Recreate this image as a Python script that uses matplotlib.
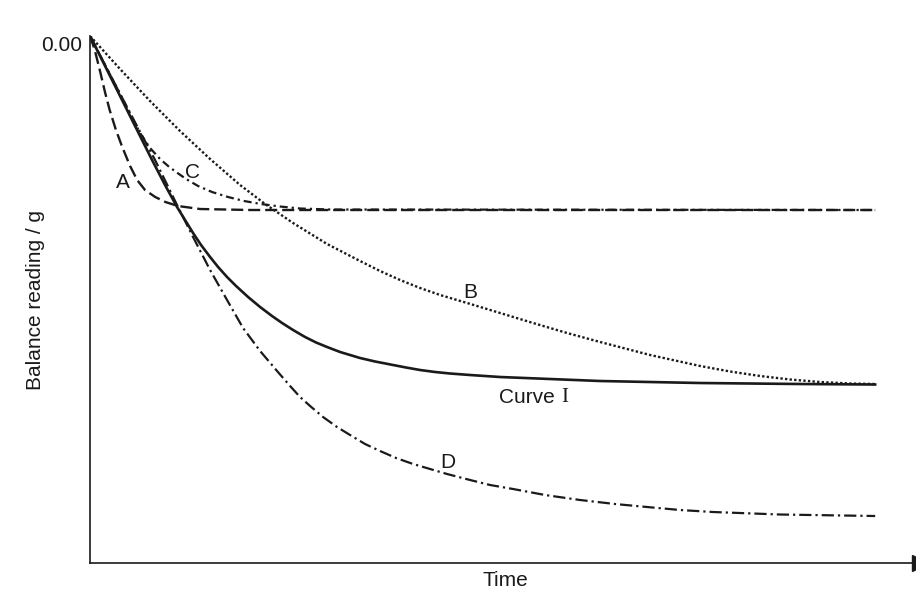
import matplotlib
matplotlib.use("Agg")
import matplotlib.pyplot as plt
import matplotlib.transforms as mtransforms

plt.rcParams['font.family'] = ['Liberation Sans', 'DejaVu Sans']

# time (arbitrary units) and balance reading (g)
t_A = [0, 0.6, 1.3, 1.9, 2.5, 3.3, 4.1, 5.1, 6.0, 7.0, 8.3, 9.6, 11.2, 14.0, 20.4, 100]
y_A = [0, -0.14, -0.36, -0.56, -0.74, -0.94, -1.11, -1.30, -1.44, -1.54, -1.61, -1.66,
       -1.70, -1.73, -1.74, -1.74]

t_B = [0, 3.82, 7.64, 11.46, 15.29, 19.11, 22.29, 25.86, 30.19, 34.39, 36.94, 39.49,
       42.04, 44.59, 48.03, 52.23, 56.43, 60.76, 64.97, 71.34, 77.71, 81.53, 85.35,
       89.17, 92.99, 96.82, 100]
y_B = [0, -0.33, -0.65, -0.95, -1.23, -1.49, -1.68, -1.87, -2.08, -2.25, -2.35, -2.44,
       -2.52, -2.59, -2.67, -2.77, -2.87, -2.97, -3.06, -3.19, -3.30, -3.355, -3.40,
       -3.435, -3.46, -3.475, -3.48]

t_C = [0, 3.82, 6.37, 7.64, 8.92, 9.94, 10.96, 12.23, 13.76, 15.54, 17.58, 19.62,
       21.78, 24.20, 26.75, 30.57, 100]
y_C = [0, -0.58, -0.97, -1.12, -1.23, -1.30, -1.36, -1.43, -1.50, -1.56, -1.61, -1.65,
       -1.68, -1.705, -1.725, -1.735, -1.74]

t_D = [0, 5.10, 8.28, 11.08, 13.12, 15.29, 17.45, 19.49, 21.66, 23.82, 25.48, 26.75,
       28.03, 29.68, 31.46, 33.12, 35.03, 36.94, 38.98, 41.15, 43.31, 45.48, 48.41,
       50.96, 53.89, 57.96, 62.42, 66.88, 70.96, 75.16, 79.36, 87.90, 100]
y_D = [0, -0.77, -1.24, -1.69, -2.01, -2.34, -2.64, -2.92, -3.15, -3.35, -3.50, -3.61,
       -3.70, -3.81, -3.91, -3.99, -4.08, -4.15, -4.22, -4.28, -4.33, -4.38, -4.44,
       -4.49, -4.53, -4.59, -4.64, -4.68, -4.71, -4.74, -4.76, -4.785, -4.80]

t_I = [0, 2.55, 4.84, 7.90, 9.55, 11.08, 12.10, 13.12, 14.14, 15.29, 16.31, 17.45,
       18.60, 20.13, 21.66, 23.18, 24.46, 25.86, 27.39, 28.79, 30.19, 31.85, 33.12,
       34.39, 36.31, 38.60, 40.25, 42.04, 43.95, 45.86, 48.41, 52.23, 58.60, 64.97,
       77.71, 90.45, 100]
y_I = [0, -0.40, -0.76, -1.24, -1.49, -1.71, -1.84, -1.97, -2.09, -2.21, -2.31, -2.41,
       -2.50, -2.61, -2.71, -2.80, -2.87, -2.94, -3.01, -3.065, -3.11, -3.16, -3.19,
       -3.22, -3.255, -3.29, -3.315, -3.34, -3.36, -3.375, -3.39, -3.41, -3.43, -3.45,
       -3.47, -3.48, -3.485]

ink = '#1a1a1a'

fig = plt.figure(figsize=(9.16, 6.01), dpi=100)
ax = fig.add_axes([0.0983, 0.0632, 0.9017, 0.8769])

ax.plot(t_I, y_I, color=ink, lw=1.9, solid_joinstyle='round')
ax.plot(t_A, y_A, color=ink, lw=1.7, linestyle=(0, (5.1, 2.1)))
ax.plot(t_B, y_B, color=ink, lw=1.7, linestyle=(0, (1, 0.95)))
ax.plot(t_C, y_C, color=ink, lw=1.6, linestyle=(0, (3.6, 1.8, 1, 1.8)))
ax.plot(t_D, y_D, color=ink, lw=1.6, linestyle=(0, (5.5, 1.8, 1, 1.8)))

ax.set_xlim(0, 105.2)
ax.set_ylim(-5.27, 0)

for side in ['top', 'right']:
    ax.spines[side].set_visible(False)
for side in ['left', 'bottom']:
    ax.spines[side].set_linewidth(1.2)
    ax.spines[side].set_color(ink)
ax.set_xticks([])
ax.set_yticks([])

# arrow head at the end of the time axis
tr = mtransforms.offset_copy(ax.transAxes, fig=fig, x=4, y=0, units='dots')
ax.plot([1.0], [0.0], marker='>', ms=11, color=ink, transform=tr, clip_on=False)

fs = 15
ax.text(-0.009, 0, '0.00', transform=ax.get_yaxis_transform(), ha='right', va='top',
        fontsize=fs, color=ink)
fig.text(36 / 916, 1 - 300 / 601, 'Balance reading / g', rotation=90, ha='center',
         va='center', fontsize=fs, color=ink)
fig.text(505 / 916, 1 - 580 / 601, 'Time', ha='center', va='center', fontsize=fs, color=ink)

ax.text(4.2, -1.46, 'A', ha='center', va='center', fontsize=fs, color=ink)
ax.text(13.1, -1.36, 'C', ha='center', va='center', fontsize=fs, color=ink)
ax.text(48.4, -2.56, 'B', ha='center', va='center', fontsize=fs, color=ink)
ax.text(45.6, -4.26, 'D', ha='center', va='center', fontsize=fs, color=ink)
ax.text(59.2, -3.61, 'Curve', ha='right', va='center', fontsize=fs, color=ink)
ax.text(60.0, -3.61, 'I', ha='left', va='center', fontsize=fs, color=ink,
        family='Liberation Serif')

fig.savefig('out.png', dpi=100)
